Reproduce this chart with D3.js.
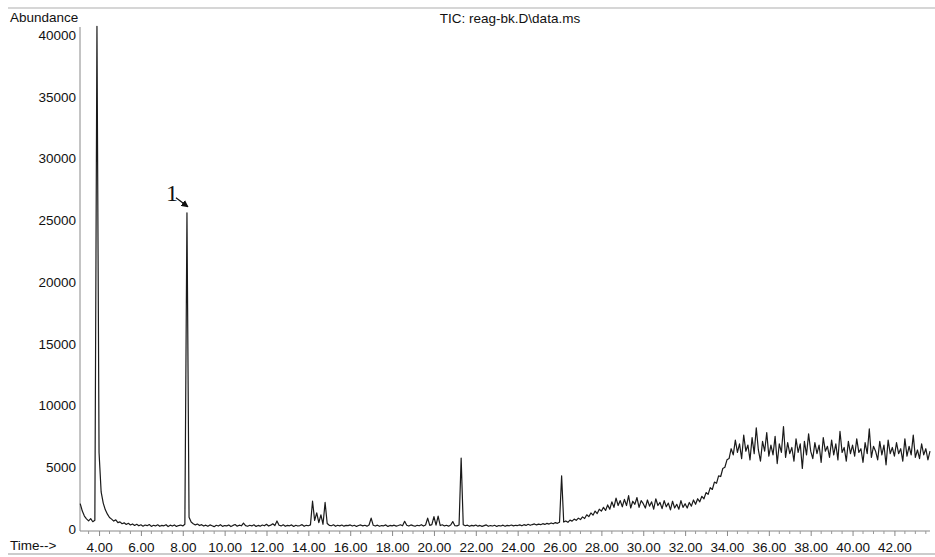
<!DOCTYPE html>
<html>
<head>
<meta charset="utf-8">
<script src="https://cdn.jsdelivr.net/npm/d3@7"></script>
<style>
  body { margin: 0; background: #fff; }
  svg { display: block; font-family: "Liberation Sans", Arial, sans-serif; }
</style>
</head>
<body>
<svg id="tic"></svg>
<script>
// scan times start at 3.1 min, one value every 0.1 min
var scanStart = 3.1;
var scanStep = 0.1;
// abundance, one row per minute
var abundance = [
  2050, 1450, 1050, 820, 660, 840, 590, 700, 40700, 6200,
  3000, 2100, 1550, 1200, 930, 800, 640, 740, 520, 580,
  430, 500, 370, 460, 330, 410, 290, 380, 260, 340,
  230, 320, 270, 360, 210, 300, 250, 340, 220, 290,
  260, 350, 200, 310, 240, 330, 210, 280, 320, 250,
  380, 25600, 950, 560, 430, 330, 400, 280, 350, 240,
  310, 220, 330, 260, 190, 300, 240, 350, 210, 280,
  250, 330, 200, 290, 360, 230, 310, 260, 480, 270,
  220, 300, 250, 340, 210, 290, 230, 320, 260, 380,
  240, 310, 420, 280, 650, 300, 250, 340, 220, 290,
  260, 330, 210, 300, 240, 280, 350, 220, 300, 260,
  330, 2250, 700, 1300, 520, 1150, 380, 2150, 450, 300,
  260, 340, 220, 300, 250, 320, 230, 290, 270, 330,
  240, 300, 210, 280, 330, 250, 300, 230, 320, 880,
  300, 240, 310, 220, 280, 260, 330, 210, 290, 250,
  310, 230, 280, 340, 260, 620, 300, 240, 330, 270,
  220, 300, 260, 350, 240, 320, 880, 290, 350, 1000,
  310, 1050, 280, 340, 250, 300, 230, 320, 600, 270,
  250, 330, 5750, 350, 260, 310, 220, 290, 250, 320,
  230, 290, 210, 270, 330, 220, 280, 240, 300, 210,
  280, 240, 310, 220, 290, 260, 320, 250, 300, 280,
  330, 260, 350, 290, 380, 300, 360, 410, 330, 390,
  350, 430, 370, 460, 400, 490, 420, 520, 460, 550,
  4300, 560, 650, 540, 720, 640, 800, 700, 880, 760,
  980, 850, 1150, 1000, 1300, 1120, 1450, 1250, 1600, 1450,
  1750, 1500, 1950, 1600, 2200, 1750, 2500, 1900, 2300, 1800,
  2400, 1900, 2700, 1700, 2250, 2000, 2550, 1750, 2300, 2050,
  1700, 2350, 1850, 2200, 1600, 2450, 1900, 2150, 1650, 2300,
  1800, 2100, 1550, 2250, 1700, 2000, 1600, 2300, 1750, 2050,
  1700, 2150, 1850, 2350, 2000, 2450, 2200, 2650, 2450, 2950,
  2800, 3350, 3200, 3800, 3700, 4300, 4250, 4900, 5000, 5600,
  5700, 6500, 6000, 7200, 6200, 6900, 5700, 7600, 6300, 6800,
  5600, 7400, 6100, 8200, 6400, 5500, 7100, 6300, 7800, 5900,
  6800, 6000, 7500, 5300, 6900, 6200, 8300, 5800, 7000, 6100,
  6600, 5500, 7300, 6200, 6900, 4900, 7100, 6000, 7700, 6300,
  5700, 7000, 6100, 6800, 5400, 7400, 6300, 6700, 5800, 7200,
  6000, 6900, 5600, 7900, 6200, 6600, 5500, 7100, 6100, 6800,
  5900, 7300, 6200, 6500, 5400, 7000, 6100, 8100, 5800, 6700,
  6300, 5600, 7100, 6000, 6800, 5200, 7200, 6100, 6600, 5900,
  7000, 6100, 6500, 5500, 7300, 5900, 6700, 6000, 7600, 5800,
  6400, 5700, 6900, 6000, 6500, 5600, 6300
];
var timeTicks = [4, 6, 8, 10, 12, 14, 16, 18, 20, 22, 24, 26, 28, 30, 32, 34, 36, 38, 40, 42];
var abundanceTicks = [0, 5000, 10000, 15000, 20000, 25000, 30000, 35000, 40000];
var peakLabel = { time: 8.2, value: 25600, text: "1" };

var width = 935;
var height = 557;

var svg = d3.select("#tic")
            .attr("width", width)
            .attr("height", height);

var x = d3.scaleLinear().domain([3.09, 43.7]).range([80, 930]);
var y = d3.scaleLinear().domain([0, 40000]).range([529, 35]);

var data = abundance.map(function (v, i) { return { t: scanStart + i * scanStep, v: v }; });

// page frame lines from the printout
svg.append("line").attr("x1", 8).attr("x2", width).attr("y1", 8).attr("y2", 8)
   .attr("stroke", "#c8c8c8").attr("stroke-width", 1.5);
svg.append("line").attr("x1", 8).attr("x2", width).attr("y1", 554).attr("y2", 554)
   .attr("stroke", "#bbb").attr("stroke-width", 1.5);

// y axis
var yAxis = svg.append("g")
    .attr("transform", "translate(80,0)")
    .call(d3.axisLeft(y).tickValues(abundanceTicks).tickSize(0).tickPadding(4)
            .tickFormat(d3.format("d")));
yAxis.select(".domain").attr("stroke", "#888").attr("d", "M0,27V531");
yAxis.selectAll("text").attr("font-size", "13.5px").attr("fill", "#111")
     .attr("font-family", "Liberation Sans, Arial, sans-serif");

// x axis with minor ticks
var xAxis = svg.append("g")
    .attr("transform", "translate(0,531)")
    .call(d3.axisBottom(x).tickValues(timeTicks).tickSize(5).tickPadding(6)
            .tickFormat(d3.format(".2f")));
xAxis.select(".domain").attr("stroke", "#888").attr("d", "M80,0H930");
xAxis.selectAll(".tick line").attr("stroke", "#888");
xAxis.selectAll("text").attr("font-size", "13.5px").attr("fill", "#111")
     .attr("font-family", "Liberation Sans, Arial, sans-serif");

var minor = d3.range(3.5, 43.7, 0.5).filter(function (d) { return timeTicks.indexOf(d) < 0; });
svg.append("g").selectAll("line")
   .data(minor).enter().append("line")
   .attr("x1", function (d) { return x(d); }).attr("x2", function (d) { return x(d); })
   .attr("y1", 531).attr("y2", 534)
   .attr("stroke", "#999");

svg.append("text").attr("x", 10).attr("y", 22).attr("font-size", "13.5px").attr("fill", "#111")
   .text("Abundance");
svg.append("text").attr("x", 10).attr("y", 550).attr("font-size", "13.5px").attr("fill", "#111")
   .text("Time-->");
svg.append("text").attr("x", 510).attr("y", 23).attr("font-size", "13.5px").attr("fill", "#111")
   .attr("text-anchor", "middle")
   .text("TIC: reag-bk.D\\data.ms");

// the trace
var line = d3.line()
    .x(function (d) { return x(d.t); })
    .y(function (d) { return y(d.v); });

svg.append("path")
   .datum(data)
   .attr("fill", "none")
   .attr("stroke", "#1a1a1a")
   .attr("stroke-width", 1.2)
   .attr("stroke-linejoin", "round")
   .attr("d", line);

// peak annotation
svg.append("defs").append("marker")
   .attr("id", "arrow").attr("viewBox", "0 0 10 10")
   .attr("refX", 9).attr("refY", 5)
   .attr("markerWidth", 6).attr("markerHeight", 6)
   .attr("orient", "auto")
   .append("path").attr("d", "M0,0L10,5L0,10z").attr("fill", "#111");

var px = x(peakLabel.time), py = y(peakLabel.value);
svg.append("line")
   .attr("x1", px - 11).attr("y1", py - 15)
   .attr("x2", px + 1).attr("y2", py - 6)
   .attr("stroke", "#111").attr("stroke-width", 1.2)
   .attr("marker-end", "url(#arrow)");
svg.append("text")
   .attr("x", px - 21).attr("y", py - 12)
   .attr("font-family", "Liberation Serif, Times New Roman, serif")
   .attr("font-size", "24px").attr("fill", "#111")
   .text(peakLabel.text);
</script>
</body>
</html>
